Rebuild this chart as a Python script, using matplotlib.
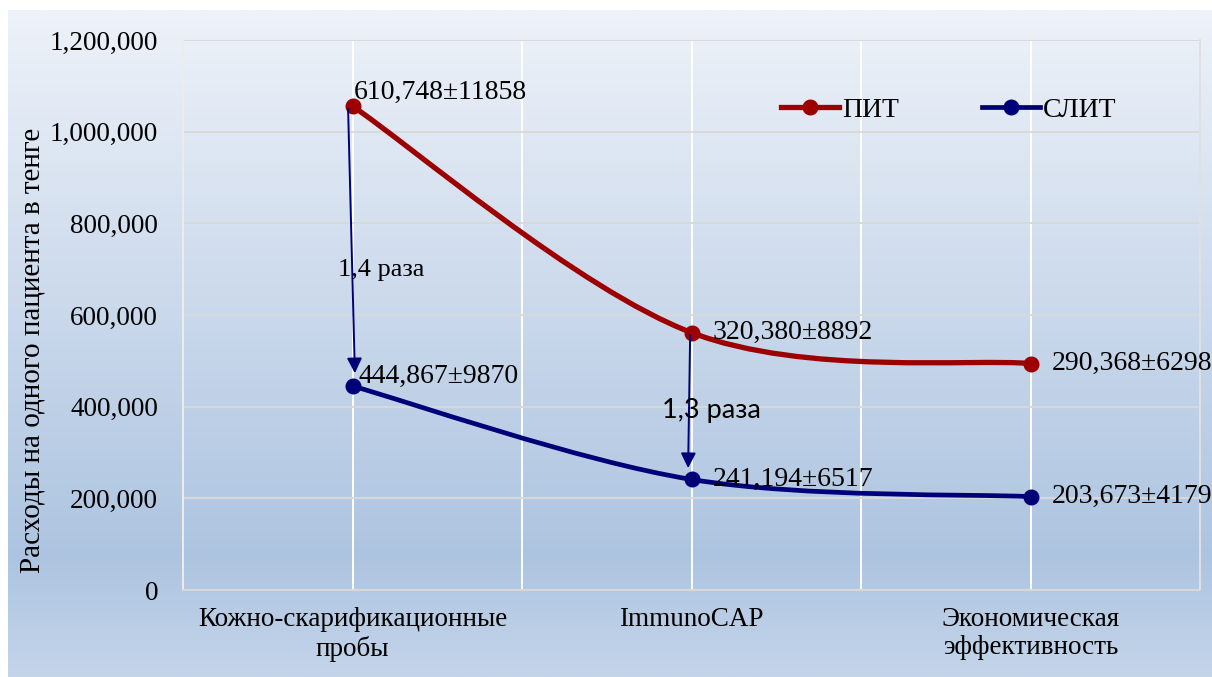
import numpy as np
import matplotlib
matplotlib.use("Agg")
import matplotlib.pyplot as plt
from matplotlib.path import Path
from matplotlib.patches import PathPatch
from matplotlib.lines import Line2D
from matplotlib.colors import LinearSegmentedColormap
from matplotlib.ticker import FuncFormatter

categories = ["Кожно-скарификационные\nпробы", "ImmunoCAP", "Экономическая\nэффективность"]
pit = [610748, 320380, 290368]
slit = [444867, 241194, 203673]
pit_err = [11858, 8892, 6298]
slit_err = [9870, 6517, 4179]
ratios = ["1,4 раза", "1,3 раза"]

RED = "#9c0000"
NAVY = "#000078"
SERIF = "Liberation Serif"

# stacked line chart: ПИТ is drawn on top of СЛИТ
x = np.arange(len(categories)) + 0.5
y_slit = np.array(slit, dtype=float)
y_pit = y_slit + np.array(pit, dtype=float)


def smooth_path(xs, ys):
    # Bezier path through the points (Excel-like smoothed line)
    pts = np.column_stack([xs, ys])
    n = len(pts)
    verts = [pts[0]]
    codes = [Path.MOVETO]
    for i in range(n - 1):
        p_prev = pts[max(i - 1, 0)]
        p0 = pts[i]
        p1 = pts[i + 1]
        p_next = pts[min(i + 2, n - 1)]
        c1 = p0 + (p1 - p_prev) / 6.0
        c2 = p1 - (p_next - p0) / 6.0
        verts += [c1, c2, p1]
        codes += [Path.CURVE4] * 3
    return Path(verts, codes)


fig = plt.figure(figsize=(12.12, 6.77), dpi=100)

# gradient background
bg = fig.add_axes([8 / 1212, 0, 1 - 8 / 1212, 1 - 10 / 677], zorder=-5)
cmap = LinearSegmentedColormap.from_list(
    "bg", [(0, "#eef2f9"), (0.82, "#adc4e0"), (1.0, "#c4d5ea")])
bg.imshow(np.linspace(0, 1, 256).reshape(-1, 1), aspect="auto", cmap=cmap,
          extent=[0, 1, 0, 1])
bg.axis("off")

ax = fig.add_axes([183 / 1212, 1 - 590 / 677, (1200 - 183) / 1212, 550 / 677])
ax.patch.set_alpha(0)

ax.set_xlim(0, 3)
ax.set_ylim(0, 1200000)
ax.set_yticks(np.arange(0, 1200001, 200000))
ax.yaxis.set_major_formatter(FuncFormatter(lambda v, p: f"{int(v):,}"))
ax.set_xticks(x)
ax.set_xticklabels(categories, fontsize=19.5, family=SERIF)
ax.set_xticks([0, 1, 2, 3], minor=True)
ax.tick_params(axis="x", which="both", length=0, pad=12)
ax.tick_params(axis="y", length=0, pad=18, labelsize=19.5)
for lab in ax.get_yticklabels():
    lab.set_family(SERIF)

ax.grid(axis="y", color="#d9d9d9", lw=1.4)
ax.grid(axis="x", which="both", color="white", lw=1.4)
ax.set_axisbelow(True)
ax.spines["top"].set_visible(False)
ax.spines["bottom"].set_color("#d9d9d9")
ax.spines["left"].set_color("#ececec")
ax.spines["right"].set_color("#e0e0e0")
for s in ax.spines.values():
    s.set_linewidth(1.4)

ax.add_patch(PathPatch(smooth_path(x, y_pit), fill=False, ec=RED, lw=3.8,
                       capstyle="round", zorder=3))
ax.add_patch(PathPatch(smooth_path(x, y_slit), fill=False, ec=NAVY, lw=3.4,
                       capstyle="round", zorder=3))
ax.plot(x, y_pit, "o", color=RED, ms=10.5, zorder=4)
ax.plot(x, y_slit, "o", color=NAVY, ms=10.5, zorder=4)

# data labels
pit_offsets = [(1, 10), (15, 0), (15, 0)]
slit_offsets = [(4, 7), (15, 0), (15, 0)]
for i in range(len(categories)):
    ax.annotate(f"{pit[i]:,}±{pit_err[i]}", (x[i], y_pit[i]),
                xytext=pit_offsets[i], textcoords="offset points",
                ha="left", va="center", fontsize=20, family=SERIF, zorder=5)
    ax.annotate(f"{slit[i]:,}±{slit_err[i]}", (x[i], y_slit[i]),
                xytext=slit_offsets[i], textcoords="offset points",
                ha="left", va="center", fontsize=20, family=SERIF, zorder=5)

# ratio arrows
arrow = dict(arrowstyle="-|>,head_length=0.9,head_width=0.45", color=NAVY,
             lw=1.4, shrinkA=0, shrinkB=0)
ax.annotate("", xy=(0.507, 473000), xytext=(0.487, 1050000), arrowprops=arrow,
            zorder=6)
ax.annotate("", xy=(1.490, 266000), xytext=(1.496, 556000), arrowprops=arrow,
            zorder=6)
ax.text(0.457, 698000, ratios[0], ha="left", va="center", fontsize=19,
        family=SERIF, zorder=6)
ax.text(1.414, 392000, ratios[1], ha="left", va="center", fontsize=19.5,
        family="Lato", zorder=6)

handles = [
    Line2D([], [], color=RED, lw=3.8, marker="o", ms=10.5),
    Line2D([], [], color=NAVY, lw=3.4, marker="o", ms=10.5),
]
ax.legend(handles, ["ПИТ", "СЛИТ"], loc="center", bbox_to_anchor=(0.753, 0.873),
          ncol=2, frameon=False, handlelength=2.1, handletextpad=0.1,
          columnspacing=3.0, prop={"family": SERIF, "size": 20})

fig.text(33 / 1212, 0.483, "Расходы на одного пациента в тенге", rotation=90,
         ha="center", va="center", fontsize=21, family=SERIF)

fig.savefig("out.png", dpi=100)
